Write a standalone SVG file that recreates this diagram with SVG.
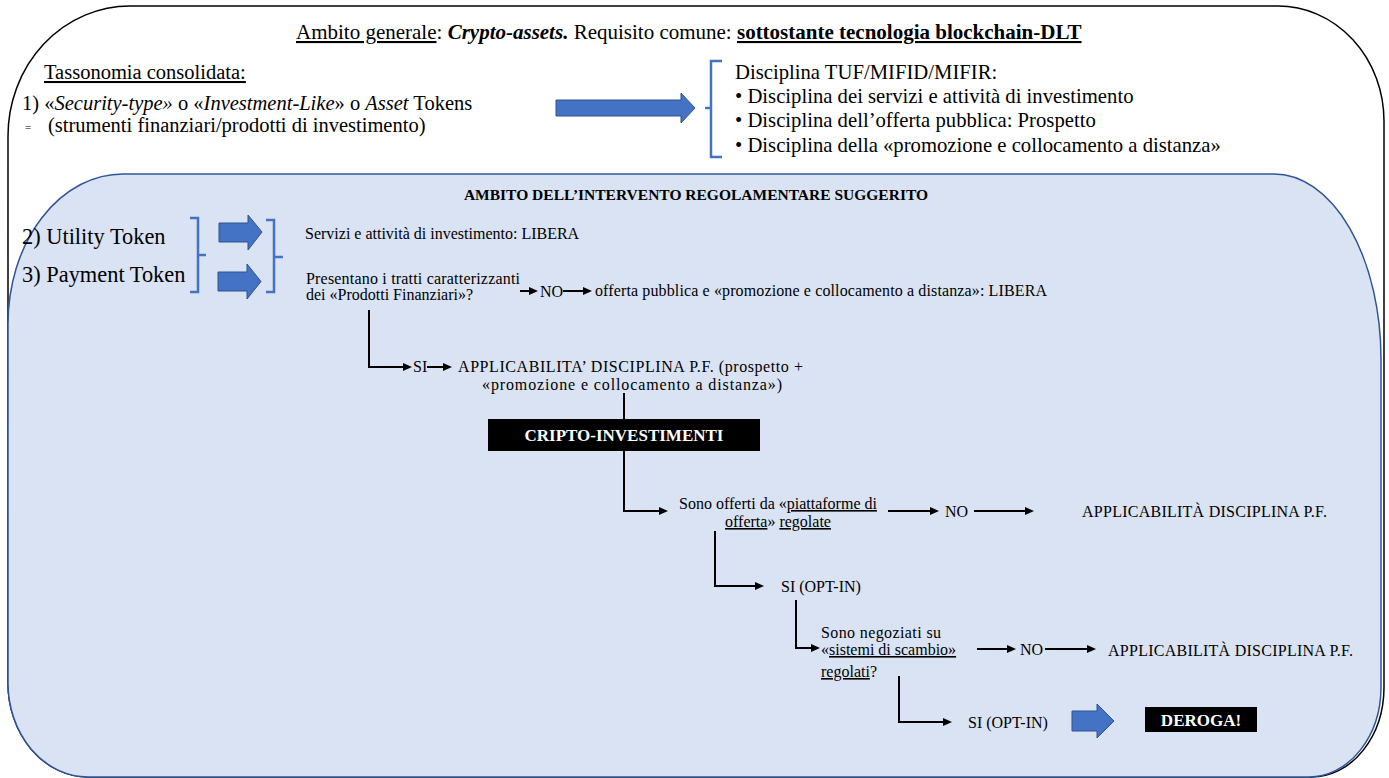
<svg xmlns="http://www.w3.org/2000/svg" width="1389" height="778" viewBox="0 0 1389 778" font-family="'Liberation Serif', 'Times New Roman', serif">
  <style>
    text { font-family: "Liberation Serif", "Times New Roman", serif; fill: #000; }
    .s16 { font-size: 16px; }
    .s20 { font-size: 20.5px; }
    .s20r { font-size: 20.7px; }
    .s22 { font-size: 22.4px; }
    .b { font-weight: bold; }
    .i { font-style: italic; }
    .u { text-decoration: underline; }
    .w { fill: #fff; }
    .conn { stroke: #000; stroke-width: 2; fill: none; }
    .blk { fill: #4472c4; stroke: #2f528f; stroke-width: 1; }
    .brk { fill: none; stroke: #4472c4; stroke-width: 2.5; }
  </style>
  <defs>
    <marker id="ah" markerWidth="10" markerHeight="8" refX="1" refY="4" orient="auto" markerUnits="userSpaceOnUse">
      <path d="M0,0 L9,4 L0,8 z" fill="#000"/>
    </marker>
  </defs>

  <rect width="1389" height="778" fill="#fff"/>

  <!-- outer frame: general scope -->
  <g id="scope-general">
    <path d="M8,136 A122,130 0 0 1 130,6 H1278 A106,115 0 0 1 1384,121 V687 A72,90 0 0 1 1312,777 H88 A80,94 0 0 1 8,683 Z" fill="#fff" stroke="#000" stroke-width="1.5"/>
    <text x="296" y="39" font-size="21"><tspan class="u">Ambito generale</tspan>: <tspan class="b i">Crypto-assets.</tspan> Requisito comune: <tspan class="b u">sottostante tecnologia blockchain-DLT</tspan></text>
  </g>

  <g id="taxonomy">
    <text class="s20 u" x="44" y="79">Tassonomia consolidata:</text>
    <text class="s20" x="22" y="110">1) «<tspan class="i">Security-type»</tspan> o «<tspan class="i">Investment-Like</tspan>» o <tspan class="i">Asset</tspan> Tokens</text>
    <text x="25" y="131" font-size="11" fill="#aaa">=</text>
    <text class="s20" x="48" y="132">(strumenti finanziari/prodotti di investimento)</text>
  </g>

  <g id="arrow-security">
    <polygon class="blk" points="556,100 681,100 681,93 695,108 681,123 681,116 556,116"/>
  </g>

  <g id="discipline-tuf">
    <path class="brk" d="M722,61 H711 V157 H722 M711,108 H705"/>
    <text class="s20r" x="735" y="79">Disciplina TUF/MIFID/MIFIR:</text>
    <text class="s20r" x="735" y="103">• Disciplina dei servizi e attività di investimento</text>
    <text class="s20r" x="735" y="127">• Disciplina dell’offerta pubblica: Prospetto</text>
    <text class="s20r" x="735" y="152">• Disciplina della «promozione e collocamento a distanza»</text>
  </g>

  <!-- inner panel: suggested regulatory scope -->
  <g id="scope-suggested">
    <path d="M8,324 A115,150 0 0 1 123,174 H1274 A107,185 0 0 1 1381,359 V687 A72,90 0 0 1 1309,777 H88 A80,94 0 0 1 8,683 Z" fill="#dae3f3" stroke="#2f5597" stroke-width="1.5"/>
    <text class="b" x="696" y="200" font-size="15.5" text-anchor="middle">AMBITO DELL’INTERVENTO REGOLAMENTARE SUGGERITO</text>
  </g>

  <g id="tokens">
    <text class="s22" x="22" y="244">2) Utility Token</text>
    <text class="s22" x="22" y="282">3) Payment Token</text>
    <path class="brk" d="M190,218 H198 V292 H190 M198,255 H206"/>
    <polygon class="blk" points="219,223 248,223 248,215 262,232 248,250 248,242 219,242"/>
    <polygon class="blk" points="218,272 247,272 247,264 261,281.5 247,299 247,291 218,291"/>
    <path class="brk" d="M266,220 H274 V292 H266 M274,257 H283"/>
  </g>

  <g id="services-free">
    <text class="s16" x="305" y="239">Servizi e attività di investimento: LIBERA</text>
  </g>

  <g id="question-pf">
    <text class="s16" x="306" y="284" textLength="214" lengthAdjust="spacing">Presentano i tratti caratterizzanti</text>
    <text class="s16" x="306" y="300">dei «Prodotti Finanziari»?</text>
  </g>

  <g id="offer-free">
    <text class="s16" x="540" y="297">NO</text>
    <text class="s16" x="595" y="296" textLength="452" lengthAdjust="spacing">offerta pubblica e «promozione e collocamento a distanza»:  LIBERA</text>
  </g>

  <g id="pf-applicable">
    <text class="s16" x="413" y="372">SI</text>
    <text class="s16" x="458" y="372" textLength="345" lengthAdjust="spacing">APPLICABILITA’ DISCIPLINA P.F. (prospetto +</text>
    <text class="s16" x="482" y="390" textLength="300" lengthAdjust="spacing">«promozione e collocamento a distanza»)</text>
  </g>

  <g id="crypto-investments">
    <rect x="488" y="419" width="272" height="32" fill="#000"/>
    <text class="b w" x="624" y="441" font-size="17" text-anchor="middle">CRIPTO-INVESTIMENTI</text>
  </g>

  <g id="question-platforms">
    <text class="s16" x="778" y="509" text-anchor="middle">Sono offerti da «<tspan class="u">piattaforme di</tspan></text>
    <text class="s16" x="778" y="527" text-anchor="middle"><tspan class="u">offerta</tspan>» <tspan class="u">regolate</tspan></text>
  </g>

  <g id="platforms-no">
    <text class="s16" x="945" y="517">NO</text>
    <text class="s16" x="1082" y="517" textLength="245" lengthAdjust="spacing">APPLICABILITÀ DISCIPLINA P.F.</text>
  </g>

  <g id="platforms-yes">
    <text class="s16" x="781" y="592">SI (OPT-IN)</text>
  </g>

  <g id="question-exchange">
    <text class="s16" x="821" y="638" textLength="120" lengthAdjust="spacing">Sono negoziati su</text>
    <text class="s16" x="821" y="655">«<tspan class="u">sistemi di scambio»</tspan></text>
    <text class="s16" x="821" y="677"><tspan class="u">regolati</tspan>?</text>
  </g>

  <g id="exchange-no">
    <text class="s16" x="1020" y="655">NO</text>
    <text class="s16" x="1108" y="656" textLength="245" lengthAdjust="spacing">APPLICABILITÀ DISCIPLINA P.F.</text>
  </g>

  <g id="exchange-yes">
    <text class="s16" x="968" y="728">SI (OPT-IN)</text>
    <polygon class="blk" points="1072,711 1097,711 1097,704 1114,721 1097,738 1097,731 1072,731"/>
  </g>

  <g id="derogation">
    <rect x="1145" y="707" width="112" height="25" fill="#000"/>
    <text class="b w" x="1201" y="726" font-size="17" text-anchor="middle">DEROGA!</text>
  </g>

  <!-- flow connectors -->
  <g id="connectors">
    <line class="conn" x1="520" y1="291" x2="530" y2="291" marker-end="url(#ah)"/>
    <line class="conn" x1="563" y1="291" x2="584" y2="291" marker-end="url(#ah)"/>
    <path class="conn" d="M369,310 V367 H404" marker-end="url(#ah)"/>
    <line class="conn" x1="427" y1="367" x2="444" y2="367" marker-end="url(#ah)"/>
    <line class="conn" x1="624" y1="393" x2="624" y2="419"/>
    <path class="conn" d="M624,451 V511 H660" marker-end="url(#ah)"/>
    <line class="conn" x1="888" y1="511" x2="931" y2="511" marker-end="url(#ah)"/>
    <line class="conn" x1="974" y1="511" x2="1026" y2="511" marker-end="url(#ah)"/>
    <path class="conn" d="M715,531 V586 H756" marker-end="url(#ah)"/>
    <path class="conn" d="M796,600 V648 H812" marker-end="url(#ah)"/>
    <line class="conn" x1="977" y1="649" x2="1008" y2="649" marker-end="url(#ah)"/>
    <line class="conn" x1="1045" y1="649" x2="1088" y2="649" marker-end="url(#ah)"/>
    <path class="conn" d="M899,676 V722 H944" marker-end="url(#ah)"/>
  </g>
</svg>
